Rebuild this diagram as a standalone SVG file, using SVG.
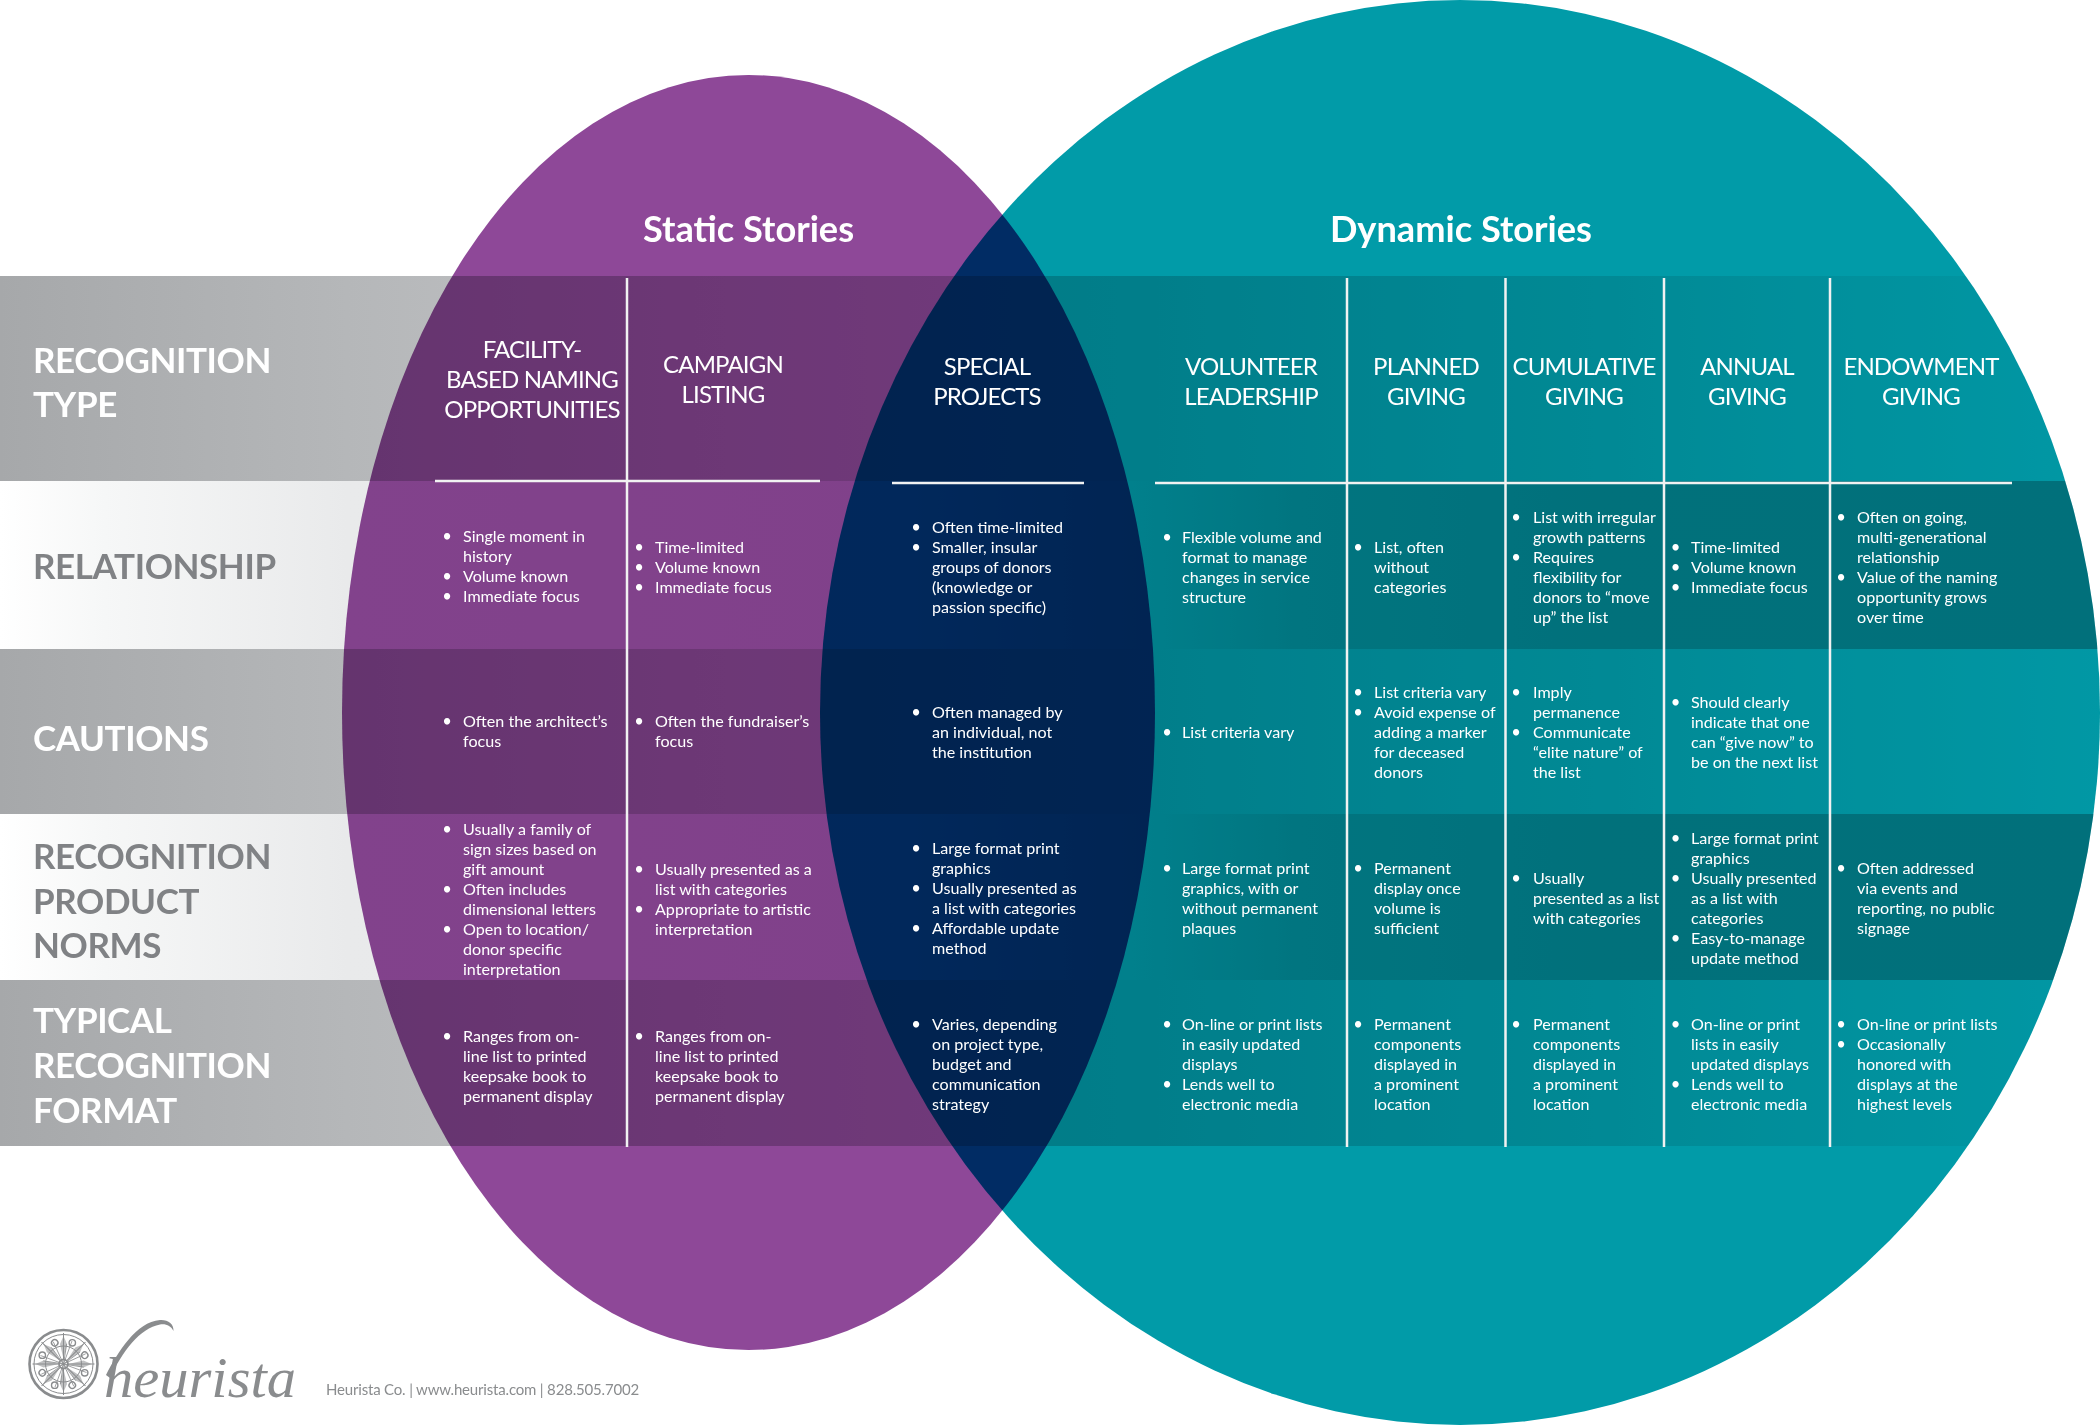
<svg xmlns="http://www.w3.org/2000/svg" width="2100" height="1425" viewBox="0 0 2100 1425">
<style>
text{font-family:"Lato","Liberation Sans",sans-serif}
.mul{mix-blend-mode:multiply}
.t{font-size:36.2px;font-weight:700;fill:#fff;text-anchor:middle}
.rw{font-size:35px;font-weight:700;fill:#fff;letter-spacing:-.4px}
.rg{font-size:35px;font-weight:700;fill:#808285;letter-spacing:-.4px}
.h{font-size:24px;fill:#fff;text-anchor:middle;letter-spacing:-.85px}
.b{font-size:16.1px;fill:#fff}
.d{font-size:16.6px;fill:#fff;text-anchor:middle}
.f{font-size:15px;fill:#8a8c8e;letter-spacing:-.18px}
.ln{stroke:#f1f2f2;stroke-width:2.5;fill:none}
.lg{stroke:#8a8c8e;fill:none}
text.script{font-family:"Liberation Serif",serif;font-style:italic;font-size:58px;fill:#8a8c8e}
</style>
<defs>
<linearGradient id="dk" gradientUnits="userSpaceOnUse" x1="0" y1="0" x2="2100" y2="0">
<stop offset="0" stop-color="#a6a8aa"/><stop offset=".165" stop-color="#b5b7b9"/><stop offset=".33" stop-color="#c2c3c5"/><stop offset=".55" stop-color="#cfd0d2"/><stop offset=".76" stop-color="#e0e1e2"/><stop offset="1" stop-color="#fafafa"/>
</linearGradient>
<linearGradient id="lt" gradientUnits="userSpaceOnUse" x1="0" y1="0" x2="2100" y2="0">
<stop offset="0" stop-color="#ffffff"/><stop offset=".05" stop-color="#f6f7f7"/><stop offset=".165" stop-color="#e9eaeb"/><stop offset=".43" stop-color="#e6e6e8"/><stop offset=".55" stop-color="#d0d0d2"/><stop offset=".62" stop-color="#bfc0c2"/><stop offset=".76" stop-color="#b8b9bb"/><stop offset="1" stop-color="#b7b8ba"/>
</linearGradient>
<clipPath id="bandclip"><rect x="0" y="0" width="1100" height="1425"/><ellipse cx="1460" cy="712.5" rx="640" ry="712.5"/></clipPath>
<g id="spoke">
<path d="M63.5 1359L63.5 1333" class="lg" stroke-width="1"/>
<path d="M63.5 1359L60 1344L63.5 1336L67 1344Z" fill="#8a8c8e" opacity=".55"/>
</g>
<g id="dot"><circle cx="72.3" cy="1342.8" r="3.2" class="lg" stroke-width="1.4"/><path d="M63.5 1364L72 1341M63.5 1364L80 1352" class="lg" stroke-width=".8"/></g>
</defs>
<rect width="2100" height="1425" fill="#fff"/>
<g id="venn">
<ellipse id="static-circle" cx="748.5" cy="712.5" rx="406.5" ry="637.5" fill="#8e4898"/>
<ellipse id="dynamic-circle" class="mul" cx="1460" cy="712.5" rx="640" ry="712.5" fill="#019ba8"/>
</g>
<g id="bands" class="mul" clip-path="url(#bandclip)">
<rect x="0" y="276" width="2100" height="205" fill="url(#dk)"/>
<rect x="0" y="481" width="2100" height="168" fill="url(#lt)"/>
<rect x="0" y="649" width="2100" height="165" fill="url(#dk)"/>
<rect x="0" y="814" width="2100" height="166" fill="url(#lt)"/>
<rect x="0" y="980" width="2100" height="166" fill="url(#dk)"/>
</g>
<g id="connectors">
<path class="ln" d="M627 278V1147M1347 278V1147M1505.5 278V1147M1664 278V1147M1830 278V1147"/>
<path class="ln" d="M435 481H820M892 483H1084M1155 483H2012"/>
</g>
<g id="titles">
<text class="t" x="748.5" y="242">Static Stories</text>
<text class="t" x="1461" y="242">Dynamic Stories</text>
</g>
<g id="row-labels">
<text class="rw" x="33" y="373">RECOGNITION<tspan x="33" dy="44">TYPE</tspan></text>
<text class="rg" x="33" y="579">RELATIONSHIP</text>
<text class="rw" x="33" y="751">CAUTIONS</text>
<text class="rg" x="33" y="869">RECOGNITION<tspan x="33" dy="45">PRODUCT</tspan><tspan x="33" dy="44">NORMS</tspan></text>
<text class="rw" x="33" y="1033">TYPICAL<tspan x="33" dy="45">RECOGNITION</tspan><tspan x="33" dy="45">FORMAT</tspan></text>
</g>
<g id="col-headers">
<text class="h" x="532" y="358">FACILITY-<tspan x="532" dy="30">BASED NAMING</tspan><tspan x="532" dy="30">OPPORTUNITIES</tspan></text>
<text class="h" x="723" y="373">CAMPAIGN<tspan x="723" dy="30">LISTING</tspan></text>
<text class="h" x="987" y="375">SPECIAL<tspan x="987" dy="30">PROJECTS</tspan></text>
<text class="h" x="1251" y="375">VOLUNTEER<tspan x="1251" dy="30">LEADERSHIP</tspan></text>
<text class="h" x="1426" y="375">PLANNED<tspan x="1426" dy="30">GIVING</tspan></text>
<text class="h" x="1584" y="375">CUMULATIVE<tspan x="1584" dy="30">GIVING</tspan></text>
<text class="h" x="1747" y="375">ANNUAL<tspan x="1747" dy="30">GIVING</tspan></text>
<text class="h" x="1921" y="375">ENDOWMENT<tspan x="1921" dy="30">GIVING</tspan></text>
</g>
<g id="row-relationship">
<g id="r2c1"><text class="d" x="447" y="542">•</text><text class="d" x="447" y="582">•</text><text class="d" x="447" y="602">•</text>
<text class="b" x="463" y="542">Single moment in<tspan x="463" dy="20">history</tspan><tspan x="463" dy="20">Volume known</tspan><tspan x="463" dy="20">Immediate focus</tspan></text></g>
<g id="r2c2"><text class="d" x="639" y="553">•</text><text class="d" x="639" y="573">•</text><text class="d" x="639" y="593">•</text>
<text class="b" x="655" y="553">Time-limited<tspan x="655" dy="20">Volume known</tspan><tspan x="655" dy="20">Immediate focus</tspan></text></g>
<g id="r2c3"><text class="d" x="916" y="533">•</text><text class="d" x="916" y="553">•</text>
<text class="b" x="932" y="533">Often time-limited<tspan x="932" dy="20">Smaller, insular</tspan><tspan x="932" dy="20">groups of donors</tspan><tspan x="932" dy="20">(knowledge or</tspan><tspan x="932" dy="20">passion specific)</tspan></text></g>
<g id="r2c4"><text class="d" x="1167" y="543">•</text>
<text class="b" x="1182" y="543">Flexible volume and<tspan x="1182" dy="20">format to manage</tspan><tspan x="1182" dy="20">changes in service</tspan><tspan x="1182" dy="20">structure</tspan></text></g>
<g id="r2c5"><text class="d" x="1358" y="553">•</text>
<text class="b" x="1374" y="553">List, often<tspan x="1374" dy="20">without</tspan><tspan x="1374" dy="20">categories</tspan></text></g>
<g id="r2c6"><text class="d" x="1516" y="523">•</text><text class="d" x="1516" y="563">•</text>
<text class="b" x="1533" y="523">List with irregular<tspan x="1533" dy="20">growth patterns</tspan><tspan x="1533" dy="20">Requires</tspan><tspan x="1533" dy="20">flexibility for</tspan><tspan x="1533" dy="20">donors to “move</tspan><tspan x="1533" dy="20">up” the list</tspan></text></g>
<g id="r2c7"><text class="d" x="1675.500" y="553">•</text><text class="d" x="1675.500" y="573">•</text><text class="d" x="1675.500" y="593">•</text>
<text class="b" x="1691" y="553">Time-limited<tspan x="1691" dy="20">Volume known</tspan><tspan x="1691" dy="20">Immediate focus</tspan></text></g>
<g id="r2c8"><text class="d" x="1841" y="523">•</text><text class="d" x="1841" y="583">•</text>
<text class="b" x="1857" y="523">Often on going,<tspan x="1857" dy="20">multi-generational</tspan><tspan x="1857" dy="20">relationship</tspan><tspan x="1857" dy="20">Value of the naming</tspan><tspan x="1857" dy="20">opportunity grows</tspan><tspan x="1857" dy="20">over time</tspan></text></g>
</g>
<g id="row-cautions">
<g id="r3c1"><text class="d" x="447" y="727">•</text>
<text class="b" x="463" y="727">Often the architect’s<tspan x="463" dy="20">focus</tspan></text></g>
<g id="r3c2"><text class="d" x="639" y="727">•</text>
<text class="b" x="655" y="727">Often the fundraiser’s<tspan x="655" dy="20">focus</tspan></text></g>
<g id="r3c3"><text class="d" x="916" y="718">•</text>
<text class="b" x="932" y="718">Often managed by<tspan x="932" dy="20">an individual, not</tspan><tspan x="932" dy="20">the institution</tspan></text></g>
<g id="r3c4"><text class="d" x="1167" y="738">•</text>
<text class="b" x="1182" y="738">List criteria vary</text></g>
<g id="r3c5"><text class="d" x="1358" y="698">•</text><text class="d" x="1358" y="718">•</text>
<text class="b" x="1374" y="698">List criteria vary<tspan x="1374" dy="20">Avoid expense of</tspan><tspan x="1374" dy="20">adding a marker</tspan><tspan x="1374" dy="20">for deceased</tspan><tspan x="1374" dy="20">donors</tspan></text></g>
<g id="r3c6"><text class="d" x="1516" y="698">•</text><text class="d" x="1516" y="738">•</text>
<text class="b" x="1533" y="698">Imply<tspan x="1533" dy="20">permanence</tspan><tspan x="1533" dy="20">Communicate</tspan><tspan x="1533" dy="20">“elite nature” of</tspan><tspan x="1533" dy="20">the list</tspan></text></g>
<g id="r3c7"><text class="d" x="1675.500" y="708">•</text>
<text class="b" x="1691" y="708">Should clearly<tspan x="1691" dy="20">indicate that one</tspan><tspan x="1691" dy="20">can “give now” to</tspan><tspan x="1691" dy="20">be on the next list</tspan></text></g>
</g>
<g id="row-product-norms">
<g id="r4c1"><text class="d" x="447" y="835">•</text><text class="d" x="447" y="895">•</text><text class="d" x="447" y="935">•</text>
<text class="b" x="463" y="835">Usually a family of<tspan x="463" dy="20">sign sizes based on</tspan><tspan x="463" dy="20">gift amount</tspan><tspan x="463" dy="20">Often includes</tspan><tspan x="463" dy="20">dimensional letters</tspan><tspan x="463" dy="20">Open to location/</tspan><tspan x="463" dy="20">donor specific</tspan><tspan x="463" dy="20">interpretation</tspan></text></g>
<g id="r4c2"><text class="d" x="639" y="875">•</text><text class="d" x="639" y="915">•</text>
<text class="b" x="655" y="875">Usually presented as a<tspan x="655" dy="20">list with categories</tspan><tspan x="655" dy="20">Appropriate to artistic</tspan><tspan x="655" dy="20">interpretation</tspan></text></g>
<g id="r4c3"><text class="d" x="916" y="854">•</text><text class="d" x="916" y="894">•</text><text class="d" x="916" y="934">•</text>
<text class="b" x="932" y="854">Large format print<tspan x="932" dy="20">graphics</tspan><tspan x="932" dy="20">Usually presented as</tspan><tspan x="932" dy="20">a list with categories</tspan><tspan x="932" dy="20">Affordable update</tspan><tspan x="932" dy="20">method</tspan></text></g>
<g id="r4c4"><text class="d" x="1167" y="874">•</text>
<text class="b" x="1182" y="874">Large format print<tspan x="1182" dy="20">graphics, with or</tspan><tspan x="1182" dy="20">without permanent</tspan><tspan x="1182" dy="20">plaques</tspan></text></g>
<g id="r4c5"><text class="d" x="1358" y="874">•</text>
<text class="b" x="1374" y="874">Permanent<tspan x="1374" dy="20">display once</tspan><tspan x="1374" dy="20">volume is</tspan><tspan x="1374" dy="20">sufficient</tspan></text></g>
<g id="r4c6"><text class="d" x="1516" y="884">•</text>
<text class="b" x="1533" y="884">Usually<tspan x="1533" dy="20">presented as a list</tspan><tspan x="1533" dy="20">with categories</tspan></text></g>
<g id="r4c7"><text class="d" x="1675.500" y="844">•</text><text class="d" x="1675.500" y="884">•</text><text class="d" x="1675.500" y="944">•</text>
<text class="b" x="1691" y="844">Large format print<tspan x="1691" dy="20">graphics</tspan><tspan x="1691" dy="20">Usually presented</tspan><tspan x="1691" dy="20">as a list with</tspan><tspan x="1691" dy="20">categories</tspan><tspan x="1691" dy="20">Easy-to-manage</tspan><tspan x="1691" dy="20">update method</tspan></text></g>
<g id="r4c8"><text class="d" x="1841" y="874">•</text>
<text class="b" x="1857" y="874">Often addressed<tspan x="1857" dy="20">via events and</tspan><tspan x="1857" dy="20">reporting, no public</tspan><tspan x="1857" dy="20">signage</tspan></text></g>
</g>
<g id="row-format">
<g id="r5c1"><text class="d" x="447" y="1042">•</text>
<text class="b" x="463" y="1042">Ranges from on-<tspan x="463" dy="20">line list to printed</tspan><tspan x="463" dy="20">keepsake book to</tspan><tspan x="463" dy="20">permanent display</tspan></text></g>
<g id="r5c2"><text class="d" x="639" y="1042">•</text>
<text class="b" x="655" y="1042">Ranges from on-<tspan x="655" dy="20">line list to printed</tspan><tspan x="655" dy="20">keepsake book to</tspan><tspan x="655" dy="20">permanent display</tspan></text></g>
<g id="r5c3"><text class="d" x="916" y="1030">•</text>
<text class="b" x="932" y="1030">Varies, depending<tspan x="932" dy="20">on project type,</tspan><tspan x="932" dy="20">budget and</tspan><tspan x="932" dy="20">communication</tspan><tspan x="932" dy="20">strategy</tspan></text></g>
<g id="r5c4"><text class="d" x="1167" y="1030">•</text><text class="d" x="1167" y="1090">•</text>
<text class="b" x="1182" y="1030">On-line or print lists<tspan x="1182" dy="20">in easily updated</tspan><tspan x="1182" dy="20">displays</tspan><tspan x="1182" dy="20">Lends well to</tspan><tspan x="1182" dy="20">electronic media</tspan></text></g>
<g id="r5c5"><text class="d" x="1358" y="1030">•</text>
<text class="b" x="1374" y="1030">Permanent<tspan x="1374" dy="20">components</tspan><tspan x="1374" dy="20">displayed in</tspan><tspan x="1374" dy="20">a prominent</tspan><tspan x="1374" dy="20">location</tspan></text></g>
<g id="r5c6"><text class="d" x="1516" y="1030">•</text>
<text class="b" x="1533" y="1030">Permanent<tspan x="1533" dy="20">components</tspan><tspan x="1533" dy="20">displayed in</tspan><tspan x="1533" dy="20">a prominent</tspan><tspan x="1533" dy="20">location</tspan></text></g>
<g id="r5c7"><text class="d" x="1675.500" y="1030">•</text><text class="d" x="1675.500" y="1090">•</text>
<text class="b" x="1691" y="1030">On-line or print<tspan x="1691" dy="20">lists in easily</tspan><tspan x="1691" dy="20">updated displays</tspan><tspan x="1691" dy="20">Lends well to</tspan><tspan x="1691" dy="20">electronic media</tspan></text></g>
<g id="r5c8"><text class="d" x="1841" y="1030">•</text><text class="d" x="1841" y="1050">•</text>
<text class="b" x="1857" y="1030">On-line or print lists<tspan x="1857" dy="20">Occasionally</tspan><tspan x="1857" dy="20">honored with</tspan><tspan x="1857" dy="20">displays at the</tspan><tspan x="1857" dy="20">highest levels</tspan></text></g>
</g>
<g id="logo">
<circle cx="63.5" cy="1364" r="34" class="lg" stroke-width="2.6"/>
<circle cx="63.500" cy="1364" r="29.500" class="lg" stroke-width="1"/>
<circle cx="63.500" cy="1364" r="18" class="lg" stroke-width="1"/>
<circle cx="63.500" cy="1364" r="4.500" class="lg" stroke-width="1.8"/>
<use href="#spoke"/><use href="#spoke" transform="rotate(45 63.5 1364)"/><use href="#spoke" transform="rotate(90 63.5 1364)"/><use href="#spoke" transform="rotate(135 63.5 1364)"/><use href="#spoke" transform="rotate(180 63.5 1364)"/><use href="#spoke" transform="rotate(225 63.5 1364)"/><use href="#spoke" transform="rotate(270 63.5 1364)"/><use href="#spoke" transform="rotate(315 63.5 1364)"/>
<use href="#dot"/><use href="#dot" transform="rotate(45 63.5 1364)"/><use href="#dot" transform="rotate(90 63.5 1364)"/><use href="#dot" transform="rotate(135 63.5 1364)"/><use href="#dot" transform="rotate(180 63.5 1364)"/><use href="#dot" transform="rotate(225 63.5 1364)"/><use href="#dot" transform="rotate(270 63.5 1364)"/><use href="#dot" transform="rotate(315 63.5 1364)"/>
<path d="M106 1375C118 1352 136 1322 160 1320C168 1319.500 174 1324 173.500 1331C171 1326 166 1323.500 160 1324.500C140 1328 122 1352 110 1378Z" fill="#8a8c8e"/>
<text class="script" x="104" y="1397" textLength="192" lengthAdjust="spacingAndGlyphs">heurista</text>
<text class="f" x="326" y="1395">Heurista Co. | www.heurista.com | 828.505.7002</text>
</g>
</svg>
